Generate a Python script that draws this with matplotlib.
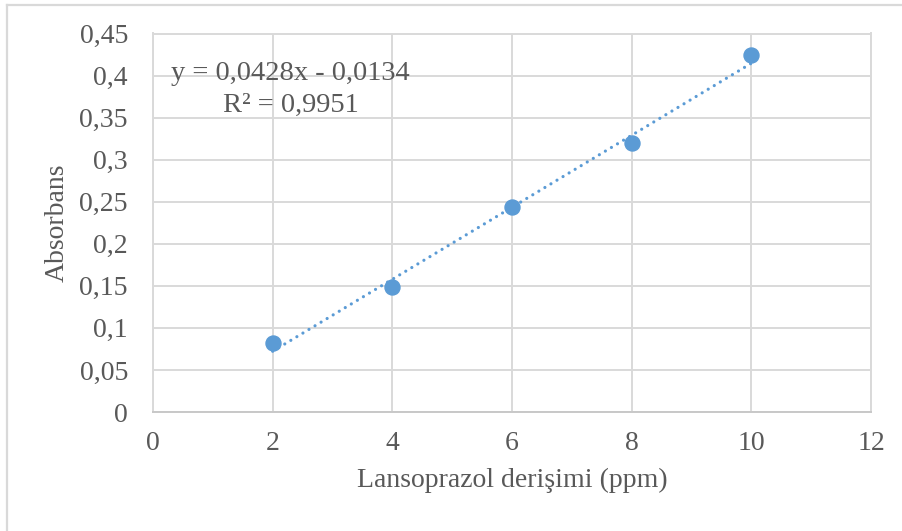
import matplotlib
matplotlib.use('Agg')
import matplotlib.pyplot as plt
from matplotlib.lines import Line2D
from matplotlib.ticker import FuncFormatter
import numpy as np

# --- Daten ---
derisim = [2, 4, 6, 8, 10]
absorbans = [0.082, 0.1485, 0.2435, 0.320, 0.4245]
egim = 0.0428
kesim = -0.0134
x_ticks = [0, 2, 4, 6, 8, 10, 12]
y_ticks = [0, 0.05, 0.1, 0.15, 0.2, 0.25, 0.3, 0.35, 0.4, 0.45]

plt.rcParams['font.family'] = ['Liberation Serif', 'DejaVu Serif']
metin_renk = '#595959'
grid_renk = '#d9d9d9'
mavi = '#5B9BD5'
fs = 20

fig = plt.figure(figsize=(9.02, 5.31), dpi=100)
ax = fig.add_axes([153 / 902, 119 / 531, 718 / 902, 378.5 / 531])

# trend cizgisi
xt = np.array([derisim[0], derisim[-1]])
ax.plot(xt, egim * xt + kesim, color=mavi, linewidth=2.3,
        linestyle=(0, (0.01, 2.2)), dash_capstyle='round', zorder=3)
ax.plot(derisim, absorbans, 'o', color=mavi, markersize=10.8, zorder=4)

ax.set_xlim(0, 12)
ax.set_ylim(0, 0.45)
ax.set_xticks(x_ticks)
ax.set_yticks(y_ticks)
fmt = FuncFormatter(lambda v, p: ('%g' % round(v, 2)).replace('.', ','))
ax.xaxis.set_major_formatter(fmt)
ax.yaxis.set_major_formatter(fmt)
ax.tick_params(length=0, labelsize=fs, labelcolor=metin_renk)
ax.tick_params(axis='x', pad=13.5)
ax.tick_params(axis='y', pad=18)
ax.grid(True, color=grid_renk, linewidth=1.4)
ax.set_axisbelow(True)
for s in ax.spines.values():
    s.set_color(grid_renk)
    s.set_linewidth(1.4)
ax.spines['bottom'].set_color('#c8c8c8')

ax.set_xlabel('Lansoprazol derişimi (ppm)', fontsize=fs, color=metin_renk, labelpad=9)
ax.set_ylabel('Absorbans', fontsize=fs, color=metin_renk, labelpad=7)

ax.text(0.3, 0.403, 'y = 0,0428x - 0,0134', fontsize=20.5, color=metin_renk,
        va='center', ha='left')
ax.text(2.3, 0.364, 'R² = 0,9951', fontsize=20.5, color=metin_renk,
        va='center', ha='center')

# dis cerceve (sol ve ust)
fig.add_artist(Line2D([6.5 / 902, 6.5 / 902], [0, 1 - 4.5 / 531], color=grid_renk, linewidth=1.6))
fig.add_artist(Line2D([6.5 / 902, 1], [1 - 4.5 / 531, 1 - 4.5 / 531], color=grid_renk, linewidth=1.6))

fig.savefig('out.png', dpi=100)
